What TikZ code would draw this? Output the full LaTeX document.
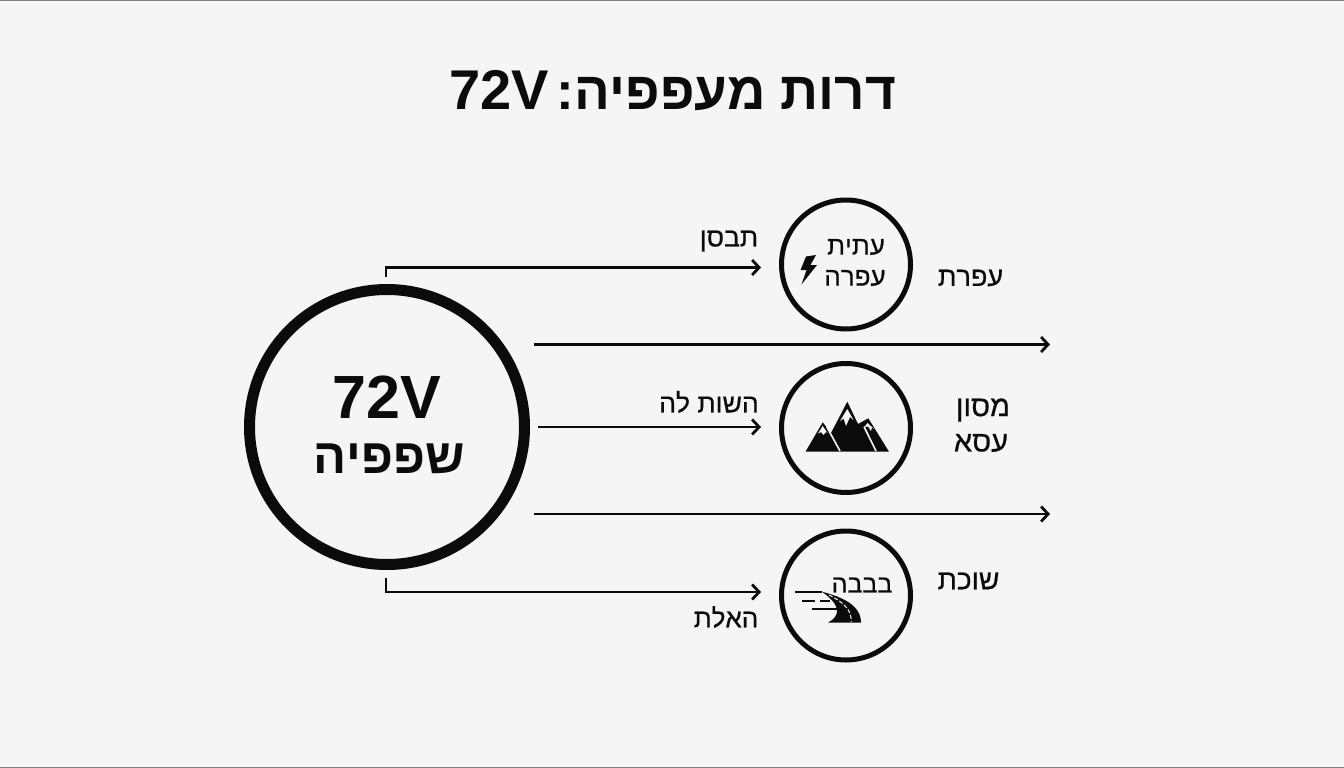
\documentclass[tikz,border=0pt]{standalone}
\usepackage{fontspec}
\usetikzlibrary{arrows.meta}
\setmainfont{Liberation Sans}
\newfontfamily\medfont[FakeBold=0.6]{Liberation Sans}
\TeXXeTstate=1
\newcommand{\heb}[1]{\beginR #1\endR}
\definecolor{bg}{HTML}{F4F5F4}
\definecolor{ink}{HTML}{0B0B0B}
\tikzset{
  hub/.style={circle,draw=ink,line width=11pt,minimum size=275pt,inner sep=0pt},
  sat/.style={circle,draw=ink,line width=5pt,minimum size=129pt,inner sep=0pt},
  conn/.style={draw=ink,line width=2.6pt,-{Straight Barb[length=7pt,width=15pt,line width=2.8pt]}},
  lab/.style={text=ink,align=center,inner sep=0pt,font=\medfont\fontsize{#1}{30}\selectfont},
  icon/.style={fill=ink,draw=none},
  snow/.style={fill=bg,draw=none},
  stroke/.style={ink,line width=1.8pt}
}
\begin{document}
\begin{tikzpicture}[x=1pt,y=-1pt]
\useasboundingbox (0,0) rectangle (1344,768);
\fill[bg] (0,0) rectangle (1344,768);
\draw[gray,line width=1pt] (0,0.5) -- (1344,0.5);
\draw[gray,line width=1pt] (0,767.5) -- (1344,767.5);
% title
\node[text=ink,inner sep=0pt,font=\fontsize{53}{60}\bfseries\selectfont] (title) at (673,91) {\heb{דרות מעפפיה:\hspace{7pt}\beginL{\fontsize{56}{60}\selectfont 72V}\endL}};
% hub
\node[hub] (hub) at (387,427) {};
\node[text=ink,inner sep=0pt,font=\fontsize{61}{68}\bfseries\selectfont] (hubv) at (387,397) {72V};
\node[text=ink,inner sep=0pt,font=\fontsize{49}{60}\bfseries\selectfont] (hubt) at (389,459) {\heb{שפפיה}};
% satellites
\node[sat] (s1) at (846,264.5) {};
\node[sat] (s2) at (846,428) {};
\node[sat] (s3) at (846,595.5) {};
% connector ends
\coordinate (a1s) at (386,277);
\coordinate (a1e) at (761,267.5);
\coordinate (a2s) at (534,344.5);
\coordinate (a2e) at (1050,344.5);
\coordinate (a3s) at (538,427);
\coordinate (a3e) at (761,427);
\coordinate (a4s) at (534,514);
\coordinate (a4e) at (1050,514);
\coordinate (a5s) at (386,578);
\coordinate (a5e) at (761,592);
\draw[conn] (a1s) |- (a1e);
\draw[conn] (a2s) -- (a2e);
\draw[conn] (a3s) -- (a3e);
\draw[conn] (a4s) -- (a4e);
\draw[conn] (a5s) |- (a5e);
% labels
\node[lab=26.5] (l1) at (729,241) {\heb{תבסן}};
\node[lab=26.5] (l2) at (709,402) {\heb{השות לה}};
\node[lab=26] (l3) at (726,617) {\heb{האלת}};
\node[lab=26] (t1a) at (856,247) {\heb{עתית}};
\node[lab=26] (t1b) at (855,278) {\heb{עפרה}};
\node[lab=25] (t3) at (862,585) {\heb{בבבה}};
\node[lab=27] (r1) at (970.5,278) {\heb{עפרת}};
\node[lab=29] (r2a) at (983,410) {\heb{מסון}};
\node[lab=29] (r2b) at (981,443) {\heb{עסא}};
\node[lab=28] (r3) at (968.5,581) {\heb{שוכת}};
% bolt
\fill[icon] (816,255) -- (806,256.5) -- (800.5,270) -- (806.5,270) -- (801.5,284.5) -- (817,265) -- (810.5,265) -- cycle;
% mountains
\fill[icon] (805.5,451.7) -- (822.7,422.3) -- (831,433) -- (847.3,401.7) -- (858,424) -- (868.3,418.3) -- (889,451.7) -- cycle;
\fill[snow] (822.7,426) -- (818,433.5) -- (821,432) -- (823.5,435) -- (826,432) -- (827.5,433) -- cycle;
\fill[snow] (847.3,409) -- (840,421) -- (843.5,418.5) -- (846,426) -- (850,417) -- (853.5,420) -- cycle;
\fill[snow] (867.5,423) -- (864.5,427) -- (868,426.5) -- (871,431) -- (872,427) -- (874,429) -- cycle;
\draw[bg,line width=1.6pt] (826.7,426.7) -- (840,451);
\draw[bg,line width=1.6pt] (864,426.7) -- (876,451);
% road
\draw[stroke] (795,591.7) -- (822,591.7);
\draw[stroke] (802.3,600.7) -- (815,600.7);
\draw[stroke] (820,600.7) -- (830,600.7);
\draw[stroke] (811.7,609.3) -- (838.3,609.3);
\fill[icon] (822,591.7) .. controls (842,597) and (861,605) .. (861,622.7) -- (828,622.7) .. controls (840,616) and (842,606) .. (822,591.7) -- cycle;
\draw[bg,line width=1pt,dash pattern=on 4pt off 2pt] (829,595) .. controls (845,603) and (852,611) .. (851,622);
\end{tikzpicture}
\end{document}
